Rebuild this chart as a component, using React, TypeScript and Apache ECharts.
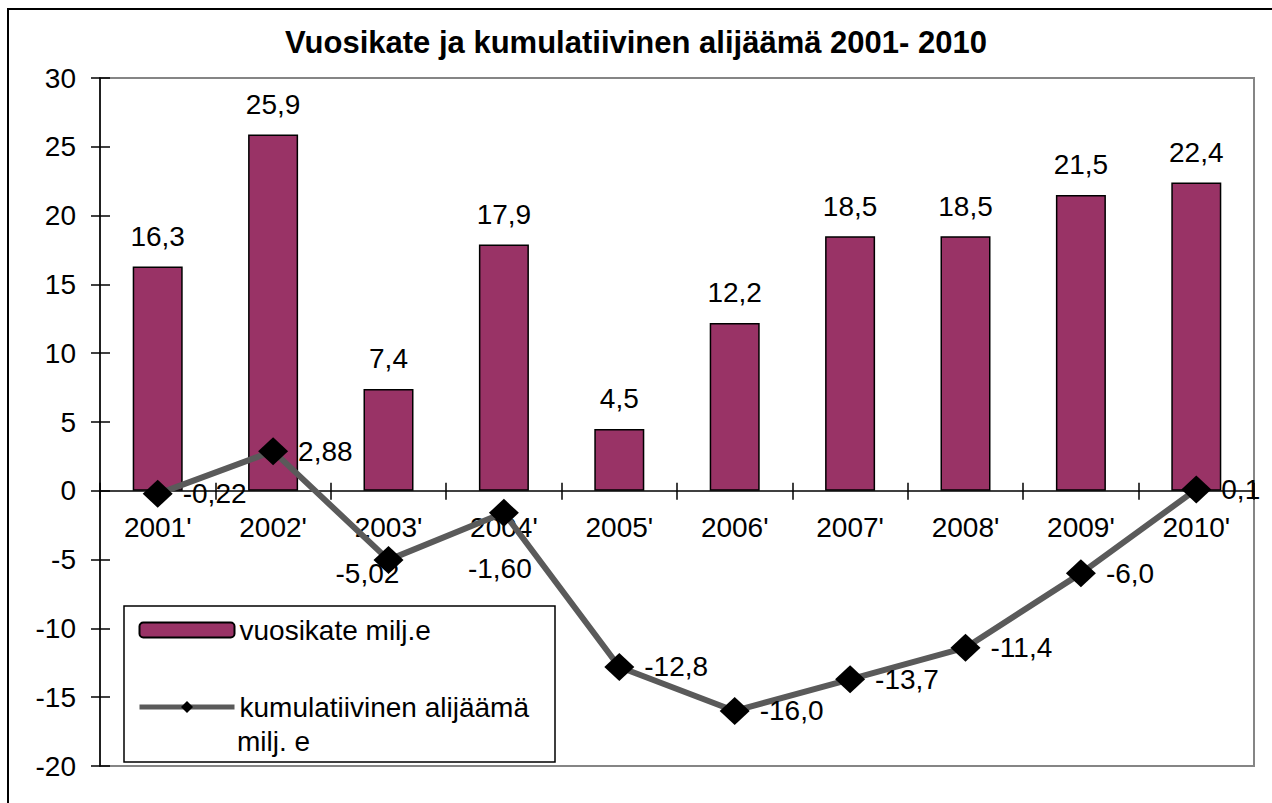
import React, { useEffect, useRef } from "react";
import * as echarts from "echarts";

const categories = ["2001'", "2002'", "2003'", "2004'", "2005'", "2006'", "2007'", "2008'", "2009'", "2010'"];
const vuosikate = [16.3, 25.9, 7.4, 17.9, 4.5, 12.2, 18.5, 18.5, 21.5, 22.4];
const alijaama = [-0.22, 2.88, -5.02, -1.6, -12.8, -16.0, -13.7, -11.4, -6.0, 0.1];
const alijaamaDecimals = [2, 2, 2, 2, 1, 1, 1, 1, 1, 1];
const yMin = -20;
const yMax = 30;
const yStep = 5;
const titleText = "Vuosikate ja kumulatiivinen alijäämä 2001- 2010";
const seriesNames = ["vuosikate milj.e", "kumulatiivinen alijäämä"];
const legendSecondLine = "milj. e";

const FONT = "'Liberation Sans', Arial, sans-serif";
const fmt = (v: number, d: number) => v.toFixed(d).replace(".", ",");

const W = 1272;
const H = 803;
const GRID = { left: 100, top: 78, right: 18, bottom: 37 };
const gridH = H - GRID.top - GRID.bottom;
// distance of the zero line from the grid's bottom and top edges
const zeroFromBottom = (gridH * (0 - yMin)) / (yMax - yMin);
const zeroFromTop = gridH - zeroFromBottom;

const lineLabelOffsets: Record<number, [number, number]> = {
  2: [-78, 14],
  3: [-61, 56],
};

export default function App() {
  const ref = useRef<HTMLDivElement>(null);
  useEffect(() => {
    if (!ref.current) return;
    const chart = echarts.init(ref.current, null, { renderer: "svg" });
    const option: any = {
      animation: false,
      backgroundColor: "#fff",
      textStyle: { fontFamily: FONT },
      title: {
        text: titleText,
        left: "center",
        top: 22,
        textStyle: { fontFamily: FONT, fontSize: 31, fontWeight: "bold", color: "#000" },
      },
      grid: {
        left: GRID.left,
        top: GRID.top,
        right: GRID.right,
        bottom: GRID.bottom,
        outerBoundsMode: "none",
        containLabel: false,
        show: true,
        borderColor: "#858585",
        borderWidth: 2,
        backgroundColor: "transparent",
      },
      legend: {
        orient: "vertical",
        left: 137,
        top: 615,
        z: 6,
        itemWidth: 95,
        itemHeight: 15,
        itemGap: 47,
        padding: 0,
        data: seriesNames,
        lineStyle: { width: 5 },
        textStyle: { fontFamily: FONT, fontSize: 28, color: "#000", lineHeight: 30 },
      },
      xAxis: [
        {
          type: "category",
          data: categories,
          position: "bottom",
          offset: -zeroFromBottom,
          axisLine: { onZero: false, lineStyle: { color: "#000", width: 1.5 } },
          axisTick: { show: true, length: 9, lineStyle: { color: "#000", width: 1.5 } },
          axisLabel: { fontFamily: FONT, fontSize: 28, color: "#000", margin: 23 },
          splitLine: { show: false },
        },
        {
          type: "category",
          data: categories,
          position: "top",
          offset: -zeroFromTop,
          axisLine: { show: false, onZero: false },
          axisTick: { show: true, length: 8, lineStyle: { color: "#000", width: 1.5 } },
          axisLabel: { show: false },
          splitLine: { show: false },
        },
      ],
      yAxis: [
        {
          type: "value",
          min: yMin,
          max: yMax,
          interval: yStep,
          position: "left",
          axisLine: { show: true, onZero: false, lineStyle: { color: "#000", width: 1.5 } },
          axisTick: { show: true, length: 9, lineStyle: { color: "#000", width: 1.5 } },
          axisLabel: { fontFamily: FONT, fontSize: 28, color: "#000", margin: 24 },
          splitLine: { show: false },
        },
        {
          type: "value",
          min: yMin,
          max: yMax,
          interval: yStep,
          position: "left",
          offset: 0,
          axisLine: { show: false, onZero: false },
          axisTick: { show: true, inside: true, length: 10, lineStyle: { color: "#000", width: 1.5 } },
          axisLabel: { show: false },
          splitLine: { show: false },
        },
      ],
      series: [
        {
          name: seriesNames[0],
          type: "bar",
          xAxisIndex: 0,
          yAxisIndex: 0,
          barWidth: 50,
          data: vuosikate,
          itemStyle: { color: "#993366", borderColor: "#000", borderWidth: 1.5 },
          label: {
            show: true,
            position: "top",
            distance: 16,
            fontFamily: FONT,
            fontSize: 28,
            color: "#000",
            formatter: (p: any) => fmt(p.value, 1),
          },
        },
        {
          name: seriesNames[1],
          type: "line",
          xAxisIndex: 1,
          yAxisIndex: 1,
          z: 3,
          data: alijaama.map((v, i) =>
            lineLabelOffsets[i]
              ? { value: v, label: { offset: lineLabelOffsets[i] } }
              : { value: v }
          ),
          symbol: "diamond",
          symbolSize: [30, 28],
          lineStyle: { color: "#5a5a5a", width: 6 },
          itemStyle: { color: "#000" },
          label: {
            show: true,
            position: "right",
            distance: 10,
            fontFamily: FONT,
            fontSize: 28,
            color: "#000",
            formatter: (p: any) => fmt(alijaama[p.dataIndex], alijaamaDecimals[p.dataIndex]),
          },
        },
      ],
      graphic: [
        {
          type: "rect",
          z: 0,
          silent: true,
          shape: { x: 8, y: 9, width: 1320, height: 900 },
          style: { fill: "none", stroke: "#000", lineWidth: 2 },
        },
        {
          type: "rect",
          z: 5,
          silent: true,
          shape: { x: 124, y: 606, width: 431, height: 156 },
          style: { fill: "#fff", stroke: "#000", lineWidth: 1.5 },
        },
        {
          type: "text",
          z: 7,
          silent: true,
          x: 237,
          y: 741,
          style: {
            text: legendSecondLine,
            font: `28px ${FONT}`,
            fill: "#000",
            verticalAlign: "middle",
          },
        },
      ],
    };
    chart.setOption(option);
    return () => chart.dispose();
  }, []);
  return (
    <div
      ref={ref}
      style={{ position: "absolute", left: 0, top: 0, width: W, height: H }}
    />
  );
}
